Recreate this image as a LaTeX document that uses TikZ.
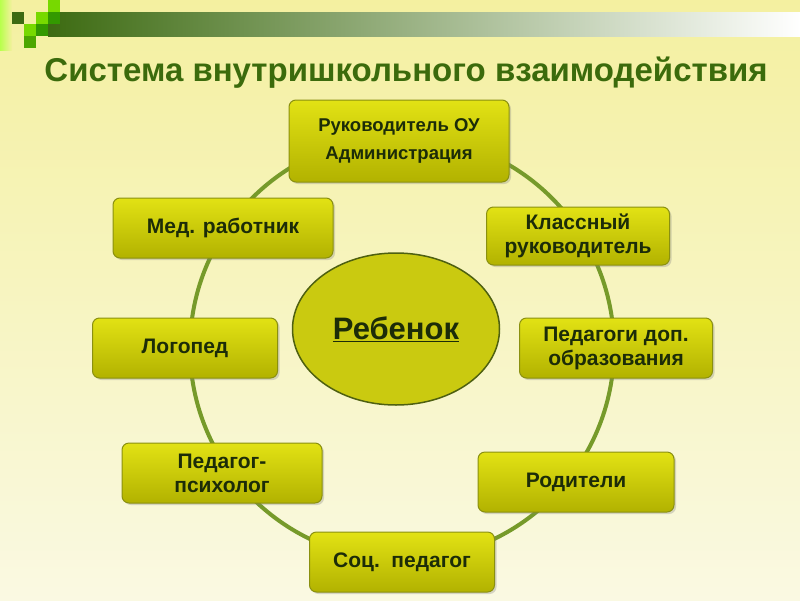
\documentclass[tikz,border=0pt]{standalone}
\usepackage{fontspec}
\setmainfont{Liberation Sans}
\usepackage{tikz}
\usetikzlibrary{shapes.geometric, shadows}

\definecolor{bgtop}{HTML}{F4F0A0}
\definecolor{bgbot}{HTML}{FAF9E2}
\definecolor{bardark}{HTML}{3D6B12}
\definecolor{titlegreen}{HTML}{3B6B0C}
\definecolor{boxtop}{HTML}{E2E214}
\definecolor{boxbot}{HTML}{B2B200}
\definecolor{boxedge}{HTML}{8A9010}
\definecolor{boxtext}{HTML}{1C2C08}
\definecolor{ringgreen}{HTML}{769A2A}
\definecolor{ellfill}{HTML}{CACA10}
\definecolor{elledge}{HTML}{4E6010}

\begin{document}
\begin{tikzpicture}[
    x=1pt, y=-1pt,
    role/.style={draw=boxedge, line width=1pt, rounded corners=7pt,
                 top color=boxtop, bottom color=boxbot,
                 drop shadow={opacity=0.3, shadow xshift=2pt, shadow yshift=-2pt},
                 text=boxtext, align=center, inner sep=2pt,
                 font=\fontsize{21}{24}\selectfont\bfseries},
    child/.style={ellipse, draw=elledge, line width=1.5pt, fill=ellfill,
                  minimum width=207pt, minimum height=152pt, inner sep=0pt,
                  text=boxtext, font=\fontsize{31}{36}\selectfont\bfseries},
    ring/.style={draw=ringgreen, line width=4pt},
]
\useasboundingbox (0,0) rectangle (800,600);

% === Background and header ===
\shade[top color=bgtop, bottom color=bgbot] (0,0) rectangle (800,600);
\shade[left color=bardark, middle color=bardark!60!white, right color=white]
    (48,12) rectangle (800,36);
\shade[left color=green!40!yellow!70, right color=bgtop] (0,0) rectangle (12,50);
\fill[bardark] (12,12) rectangle (24,24);
\fill[green!45!yellow!85!black] (48,0) rectangle (60,12);
\fill[green!45!yellow!85!black] (36,12) rectangle (48,24);
\fill[green!50!black!80!yellow] (48,12) rectangle (60,24);
\fill[green!45!yellow!85!black] (24,24) rectangle (36,36);
\fill[green!50!black!80!yellow] (36,24) rectangle (48,36);
\fill[green!50!black!70!yellow] (24,36) rectangle (36,48);

\node[text=titlegreen, font=\fontsize{33}{38}\selectfont\bfseries] (title) at (406,73)
    {Система внутришкольного взаимодействия};

% === Ring ===
\coordinate (ringc) at (402,348);
\draw[ring] (ringc) circle[radius=212pt];

% === Centre ===
\node[child] (child) at (396,329) {\underline{Ребенок}};

% === Participants ===
\node[role, minimum width=220pt, minimum height=82pt,
      font=\fontsize{18.5}{28}\selectfont\bfseries] (head) at (399,141)
    {Руководитель ОУ\\Администрация};
\node[role, minimum width=183pt, minimum height=58pt] (teacher) at (578,236)
    {Классный\\руководитель};
\node[role, minimum width=193pt, minimum height=60pt] (extra) at (616,348)
    {Педагоги доп.\\образования};
\node[role, minimum width=196pt, minimum height=60pt] (parents) at (576,482)
    {Родители};
\node[role, minimum width=185pt, minimum height=60pt] (social) at (402,562)
    {Соц.\ \ педагог};
\node[role, minimum width=200pt, minimum height=60pt] (psych) at (222,473)
    {Педагог-\\психолог};
\node[role, minimum width=185pt, minimum height=60pt] (speech) at (185,348)
    {Логопед};
\node[role, minimum width=220pt, minimum height=60pt] (med) at (223,228)
    {Мед. работник};

\end{tikzpicture}
\end{document}
